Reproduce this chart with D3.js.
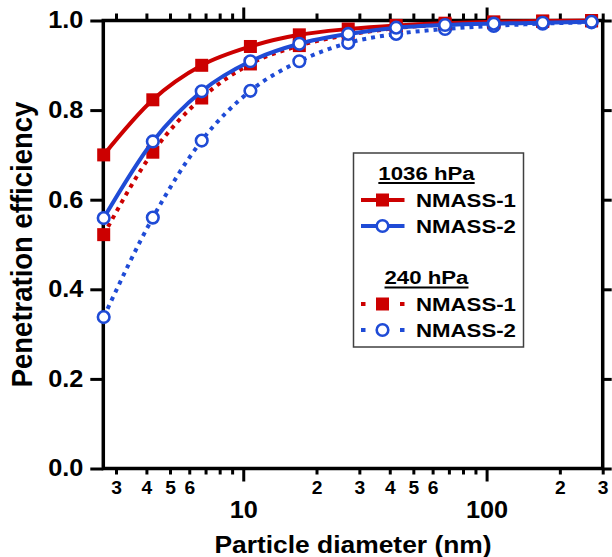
<!DOCTYPE html>
<html>
<head>
<meta charset="utf-8">
<script src="https://cdn.jsdelivr.net/npm/d3@7"></script>
<style>
  body { margin: 0; background: #fff; }
  text { font-family: 'Liberation Sans', Arial, sans-serif; font-weight: bold; fill: #000; }
</style>
</head>
<body>
<div id="chart"></div>
<script>
// data
var diameters = [2.67, 4.25, 6.75, 10.7, 17, 27, 42.5, 67.5, 107, 170, 270]
var nmass1_1036 = [0.700, 0.823, 0.900, 0.942, 0.968, 0.981, 0.989, 0.994, 0.997, 0.999, 1.0]
var nmass2_1036 = [0.559, 0.730, 0.842, 0.909, 0.948, 0.970, 0.984, 0.990, 0.993, 0.995, 0.997]
var nmass1_240 = [0.522, 0.706, 0.827, 0.903, 0.944, 0.968, 0.983, 0.991, 0.995, 0.998, 0.999]
var nmass2_240 = [0.338, 0.560, 0.732, 0.843, 0.909, 0.950, 0.970, 0.981, 0.988, 0.993, 0.996]

var yTicks = [0, 0.2, 0.4, 0.6, 0.8, 1.0]
var xMinorTicks = [3, 4, 5, 6, 7, 8, 9, 20, 30, 40, 50, 60, 70, 80, 90, 200, 300]
var xLabeledMinor = [3, 4, 5, 6, 20, 30, 40, 50, 60, 200, 300]
var xMajorTicks = [10, 100]
var pressures = ['1036 hPa', '240 hPa']
var instruments = ['NMASS-1', 'NMASS-2']

var RED = '#cc0000'
var BLUE = '#1f4bd6'

var width = 612
var height = 557
var plot = { left: 103.3, right: 602.7, top: 20.5, bottom: 468.5 }
var sx = 1.1 // the original text looks a bit wider than Arial

var svg = d3
  .select('#chart')
  .append('svg')
  .attr('width', width)
  .attr('height', height)

var x = d3.scaleLog().domain([2.66, 300]).range([plot.left, plot.right])
var y = d3.scaleLinear().domain([0, 1]).range([plot.bottom, plot.top])

function styleAxis(g, sw) {
  g.select('.domain').remove()
  g.selectAll('line').attr('stroke', '#000').attr('stroke-width', sw)
  g.selectAll('text').attr('fill', '#000').attr('font-family', null)
}

// bottom axis, minor ticks with single digit labels
var bottomMinor = svg
  .append('g')
  .attr('transform', 'translate(0,' + plot.bottom + ')')
  .call(
    d3.axisBottom(x)
      .tickValues(xMinorTicks)
      .tickSize(6)
      .tickPadding(7)
      .tickFormat(d => (xLabeledMinor.indexOf(d) >= 0 ? String(d).charAt(0) : ''))
  )
styleAxis(bottomMinor, 3)
bottomMinor.selectAll('text').attr('font-size', 17.5).attr('transform', 'scale(' + sx + ',1)')

// bottom axis, decades
var bottomMajor = svg
  .append('g')
  .attr('transform', 'translate(0,' + plot.bottom + ')')
  .call(d3.axisBottom(x).tickValues(xMajorTicks).tickSize(13).tickPadding(20).tickFormat(d3.format('d')))
styleAxis(bottomMajor, 3)
bottomMajor.selectAll('text').attr('font-size', 23).attr('transform', 'scale(' + sx + ',1)')

// top axis, ticks only
var topMinor = svg
  .append('g')
  .attr('transform', 'translate(0,' + plot.top + ')')
  .call(d3.axisTop(x).tickValues(xMinorTicks).tickSize(7).tickFormat(''))
styleAxis(topMinor, 3)
var topMajor = svg
  .append('g')
  .attr('transform', 'translate(0,' + plot.top + ')')
  .call(d3.axisTop(x).tickValues(xMajorTicks).tickSize(13).tickFormat(''))
styleAxis(topMajor, 3)

// left axis
var left = svg
  .append('g')
  .attr('transform', 'translate(' + plot.left + ',0)')
  .call(d3.axisLeft(y).tickValues(yTicks).tickSize(13).tickPadding(7).tickFormat(d3.format('.1f')))
styleAxis(left, 3)
left.selectAll('text')
  .attr('font-size', 23)
  .attr('x', 0)
  .attr('transform', 'translate(-20,0) scale(' + sx + ',1)')

// right axis
var right = svg
  .append('g')
  .attr('transform', 'translate(' + plot.right + ',0)')
  .call(d3.axisRight(y).tickValues(yTicks).tickSize(9).tickFormat(''))
styleAxis(right, 3)

// frame
svg
  .append('rect')
  .attr('x', plot.left)
  .attr('y', plot.top)
  .attr('width', plot.right - plot.left)
  .attr('height', plot.bottom - plot.top)
  .attr('fill', 'none')
  .attr('stroke', '#000')
  .attr('stroke-width', 3.5)

// axis titles
svg
  .append('text')
  .attr('text-anchor', 'middle')
  .attr('font-size', 24)
  .attr('transform', 'translate(' + (plot.left + plot.right) / 2 + ',553) scale(' + sx + ',1)')
  .text('Particle diameter (nm)')

svg
  .append('text')
  .attr('text-anchor', 'middle')
  .attr('font-size', 27.5)
  .attr('transform', 'translate(32,' + (plot.top + plot.bottom) / 2 + ') rotate(-90) scale(1,' + sx + ')')
  .text('Penetration efficiency')

// series, drawn back to front
var series = [
  { pressure: 1, name: 0, values: nmass1_240, color: RED, dash: '4,5', marker: 'square' },
  { pressure: 1, name: 1, values: nmass2_240, color: BLUE, dash: '4,5', marker: 'circle' },
  { pressure: 0, name: 0, values: nmass1_1036, color: RED, dash: null, marker: 'square' },
  { pressure: 0, name: 1, values: nmass2_1036, color: BLUE, dash: null, marker: 'circle' }
]

var line = d3
  .line()
  .x(d => x(d[0]))
  .y(d => y(d[1]))
  .curve(d3.curveMonotoneX)

function drawMarker(g, kind, color, cx, cy) {
  if (kind === 'square') {
    g.append('rect')
      .attr('x', cx - 6.5)
      .attr('y', cy - 6.5)
      .attr('width', 13)
      .attr('height', 13)
      .attr('fill', color)
  } else {
    g.append('circle')
      .attr('cx', cx)
      .attr('cy', cy)
      .attr('r', 5.8)
      .attr('fill', '#fff')
      .attr('stroke', color)
      .attr('stroke-width', 2.6)
  }
}

series.forEach(s => {
  var pts = diameters.map((d, i) => [d, s.values[i]])
  var g = svg.append('g')
  g.append('path')
    .datum(pts)
    .attr('d', line)
    .attr('fill', 'none')
    .attr('stroke', s.color)
    .attr('stroke-width', 4)
    .attr('stroke-dasharray', s.dash)
  pts.forEach(p => drawMarker(g, s.marker, s.color, x(p[0]), y(p[1])))
})

// legend
var legend = svg.append('g')
legend
  .append('rect')
  .attr('x', 353.5)
  .attr('y', 153)
  .attr('width', 170)
  .attr('height', 194)
  .attr('fill', '#fff')
  .attr('stroke', '#404040')
  .attr('stroke-width', 1.5)

var headerY = [179.5, 284]
var rowY = [[200, 226], [304, 330]]
var lsx = 1.17

pressures.forEach((p, pi) => {
  var t = legend
    .append('text')
    .attr('text-anchor', 'middle')
    .attr('font-size', 19)
    .attr('transform', 'translate(426.5,' + headerY[pi] + ') scale(' + lsx + ',1)')
    .text(p)
  var w = t.node().getComputedTextLength() * lsx
  legend
    .append('line')
    .attr('x1', 426.5 - w / 2)
    .attr('x2', 426.5 + w / 2)
    .attr('y1', headerY[pi] + 3.5)
    .attr('y2', headerY[pi] + 3.5)
    .attr('stroke', '#000')
    .attr('stroke-width', 2)
})

series.forEach(s => {
  var ly = rowY[s.pressure][s.name]
  var g = legend.append('g')
  g.append('line')
    .attr('x1', 361)
    .attr('x2', 404.5)
    .attr('y1', ly)
    .attr('y2', ly)
    .attr('stroke', s.color)
    .attr('stroke-width', 4)
    .attr('stroke-dasharray', s.dash ? '4.5,34.5' : null)
  drawMarker(g, s.marker, s.color, 382.5, ly)
  g.append('text')
    .attr('font-size', 19)
    .attr('transform', 'translate(416,' + (ly + 6.5) + ') scale(' + lsx + ',1)')
    .text(instruments[s.name])
})
</script>
</body>
</html>
